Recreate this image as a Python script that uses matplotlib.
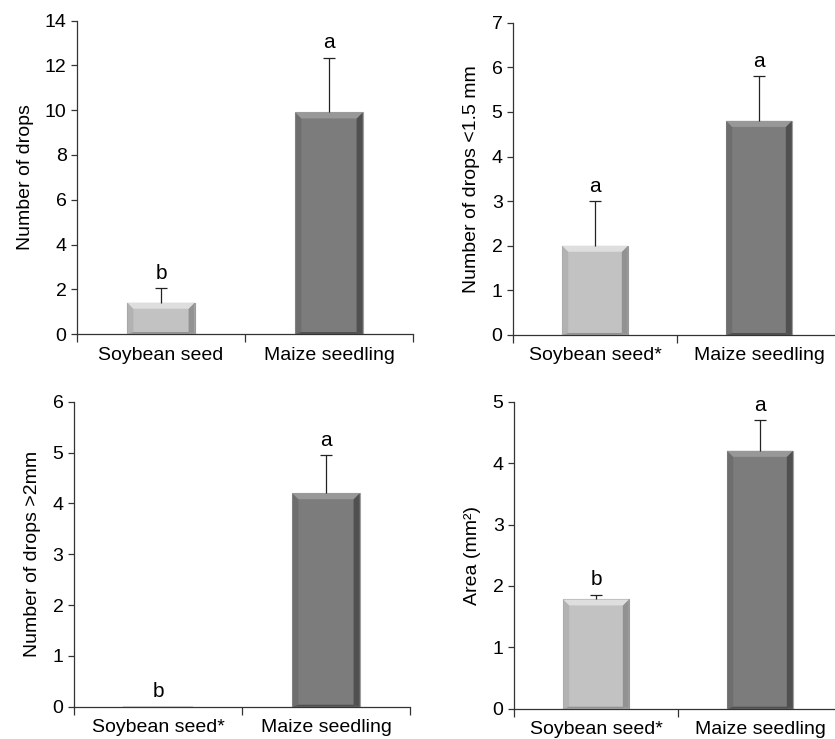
import numpy as np
import matplotlib.pyplot as plt
from matplotlib.patches import Polygon

plt.rcParams['font.family'] = ['Liberation Sans', 'DejaVu Sans']

# data
cats_a = ['Soybean seed', 'Maize seedling']
cats_b = ['Soybean seed*', 'Maize seedling']

drops_mean = [1.4, 9.9]
drops_err = [0.65, 2.45]
drops_let = ['b', 'a']

small_mean = [2.0, 4.8]
small_err = [1.0, 1.0]
small_let = ['a', 'a']

large_mean = [0.0, 4.2]
large_err = [0.0, 0.75]
large_let = ['b', 'a']

area_mean = [1.78, 4.2]
area_err = [0.08, 0.5]
area_let = ['b', 'a']

bar_cols = ['#c2c2c2', '#7c7c7c']
top_cols = ['#dedede', '#989898']
left_cols = ['#b2b2b2', '#6e6e6e']
side_cols = ['#929292', '#505050']
edge_cols = ['#9a9a9a', '#a0a0a0']

fig = plt.figure(figsize=(8.35, 7.39), dpi=100)


def bevel_bars(ax, means, ymax, bw=0.4, px=6):
    # emboss look: light top, dark right, thin dark bottom
    bb = ax.get_position()
    w_px = bb.width * 835
    h_px = bb.height * 739
    dx = px * 2.0 / w_px
    dy = px * ymax / h_px
    for i, m in enumerate(means):
        x0, x1 = i - bw / 2, i + bw / 2
        if m <= 0:
            ax.plot([x0, x1], [0, 0], color='#d8d8d8', lw=1.5, zorder=2)
            continue
        ax.bar(i, m, width=bw, color=bar_cols[i], edgecolor=edge_cols[i],
               linewidth=0.8, zorder=2)
        d = min(dy, m / 3)
        db = d / 3
        top = [(x0, m), (x1, m), (x1 - dx, m - d), (x0 + dx, m - d)]
        left = [(x0, 0), (x0, m), (x0 + dx, m - d), (x0 + dx, db)]
        right = [(x1, 0), (x1, m), (x1 - dx, m - d), (x1 - dx, db)]
        bot = [(x0, 0), (x1, 0), (x1 - dx, db), (x0 + dx, db)]
        ax.add_patch(Polygon(left, closed=True, fc=left_cols[i], ec='none', zorder=3))
        ax.add_patch(Polygon(right, closed=True, fc=side_cols[i], ec='none', zorder=3))
        ax.add_patch(Polygon(bot, closed=True, fc=side_cols[i], ec='none', zorder=3))
        ax.add_patch(Polygon(top, closed=True, fc=top_cols[i], ec='none', zorder=3))


def panel(rect, cats, means, errs, lets, ymax, ystep, ylab):
    ax = fig.add_axes(rect)
    x = np.arange(len(cats))
    ax.set_xlim(-0.5, 1.5)
    ax.set_ylim(0, ymax)
    bevel_bars(ax, means, ymax)
    for i in range(len(cats)):
        if errs[i] > 0:
            # upper half error bar only
            ax.vlines(x[i], means[i], means[i] + errs[i], color='#222222', lw=0.9, zorder=4)
            ax.plot(x[i], means[i] + errs[i], marker='_', ms=8, mew=0.9,
                    color='#222222', zorder=4)
        ax.annotate(lets[i], (x[i], means[i] + errs[i]), xytext=(0, 4),
                    textcoords='offset points', ha='center', va='bottom', fontsize=15)
    ax.set_yticks(np.arange(0, ymax + ystep / 2, ystep))
    ax.set_xticks(x)
    ax.set_xticklabels(cats, fontsize=14)
    ax.set_xticks([-0.5, 0.5, 1.5], minor=True)
    ax.tick_params(axis='x', which='major', length=0, pad=9)
    ax.tick_params(axis='x', which='minor', length=6, width=0.9, direction='out', color='#333333')
    ax.tick_params(axis='y', length=4, width=0.9, labelsize=14, color='#333333')
    ax.spines['top'].set_visible(False)
    ax.spines['right'].set_visible(False)
    for s in ['left', 'bottom']:
        ax.spines[s].set_linewidth(0.9)
        ax.spines[s].set_color('#333333')
    ax.set_ylabel(ylab, fontsize=14, labelpad=8)
    return ax


panel([0.0922, 0.548, 0.4024, 0.424], cats_a, drops_mean, drops_err, drops_let, 14, 2,
      'Number of drops')
panel([0.6144, 0.5467, 0.3928, 0.4225], cats_b, small_mean, small_err, small_let, 7, 1,
      'Number of drops <1.5 mm')
panel([0.0886, 0.0437, 0.4024, 0.4127], cats_b, large_mean, large_err, large_let, 6, 1,
      'Number of drops >2mm')
panel([0.6156, 0.041, 0.3928, 0.4154], cats_b, area_mean, area_err, area_let, 5, 1,
      'Area (mm²)')

fig.savefig('out.png', dpi=100)
